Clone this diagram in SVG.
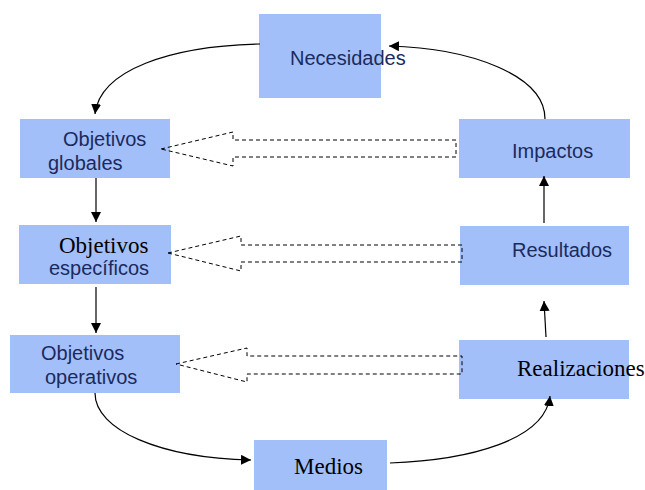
<svg xmlns="http://www.w3.org/2000/svg" width="645" height="490" viewBox="0 0 645 490">
<style>
.box{fill:#a3bffa}
.sans{font-family:"Liberation Sans",Arial,sans-serif;font-size:20px;fill:#1b2a5c}
.serif{font-family:"Liberation Serif","Times New Roman",serif;font-size:23px;fill:#000}
.ln{fill:none;stroke:#000;stroke-width:1.2}
.blk{fill:#fff;fill-opacity:0;stroke:#000;stroke-width:1;stroke-dasharray:4,3}
</style>
<defs>
<marker id="ah" viewBox="0 0 10 10" refX="10" refY="5" markerWidth="10" markerHeight="10" markerUnits="userSpaceOnUse" orient="auto">
<path d="M0,0 L10,5 L0,10 z" fill="#000"/>
</marker>
</defs>
<g id="necesidades"><rect class="box" x="259" y="14" width="122" height="84"/><text class="sans" x="290" y="65">Necesidades</text></g>
<g id="obj-globales"><rect class="box" x="20" y="119" width="150" height="59"/><text class="sans" x="63" y="146">Objetivos</text><text class="sans" x="48" y="170">globales</text></g>
<g id="impactos"><rect class="box" x="459" y="119" width="171" height="59"/><text class="sans" x="512" y="158">Impactos</text></g>
<g id="obj-especificos"><rect class="box" x="19" y="225" width="152" height="59"/><text class="serif" x="59" y="253">Objetivos</text><text class="sans" x="49" y="275">específicos</text></g>
<g id="resultados"><rect class="box" x="460" y="226" width="169" height="59"/><text class="sans" x="512" y="257">Resultados</text></g>
<g id="obj-operativos"><rect class="box" x="10" y="335" width="170" height="58"/><text class="sans" x="41" y="360">Objetivos</text><text class="sans" x="45" y="384">operativos</text></g>
<g id="realizaciones"><rect class="box" x="459" y="340" width="170" height="59"/><text class="serif" x="517" y="376">Realizaciones</text></g>
<g id="medios"><rect class="box" x="254" y="440" width="133" height="50"/><text class="serif" x="294" y="474">Medios</text></g>
<g id="connectors">
<path class="ln" d="M260,44 C170,46 100,70 95,114" marker-end="url(#ah)"/>
<path class="ln" d="M545,119 C545,75 470,48 389,46" marker-end="url(#ah)"/>
<path class="ln" d="M96,178 L96,222" marker-end="url(#ah)"/>
<path class="ln" d="M96,287 L96,333" marker-end="url(#ah)"/>
<path class="ln" d="M544,223 L544,176" marker-end="url(#ah)"/>
<path class="ln" d="M546,337 L544,301" marker-end="url(#ah)"/>
<path class="ln" d="M95,393 C95,430 160,458 251,460" marker-end="url(#ah)"/>
<path class="ln" d="M390,463 C470,460 545,440 550,396" marker-end="url(#ah)"/>
<polygon class="blk" points="161,149 233,132 233,140 456,140 456,157 233,157 233,166"/>
<polygon class="blk" points="168,253 241,236 241,245 462,245 462,262 241,262 241,271"/>
<polygon class="blk" points="176,364 247,348 247,356 462,356 462,374 247,374 247,382"/>
</g>
</svg>
